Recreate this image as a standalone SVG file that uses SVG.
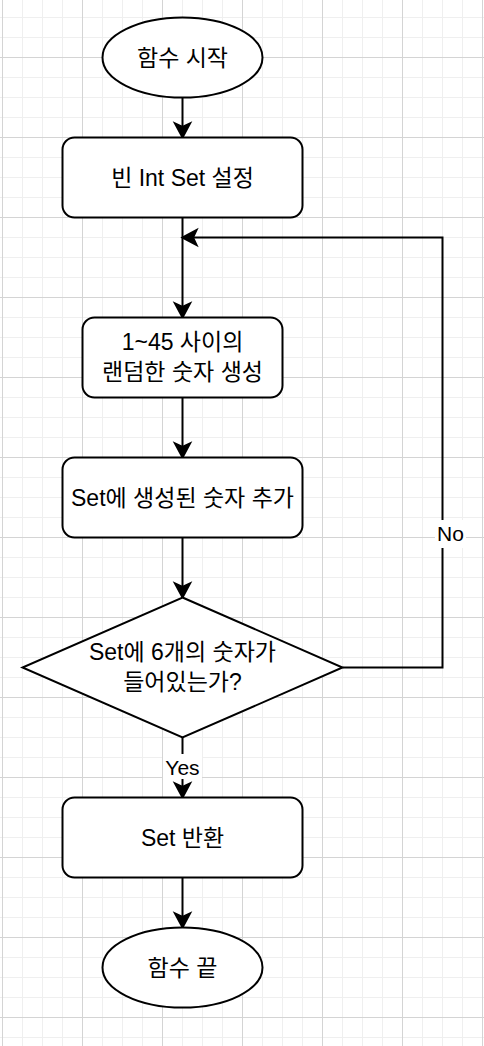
<svg xmlns="http://www.w3.org/2000/svg" width="484" height="1046" viewBox="0 0 484 1046">
  <defs>
    <pattern id="grid" patternUnits="userSpaceOnUse" x="2" y="-23" width="80" height="80">
      <rect x="20" y="0" width="1" height="80" fill="#efefef"/>
      <rect x="40" y="0" width="1" height="80" fill="#efefef"/>
      <rect x="60" y="0" width="1" height="80" fill="#efefef"/>
      <rect x="0" y="20" width="80" height="1" fill="#efefef"/>
      <rect x="0" y="40" width="80" height="1" fill="#efefef"/>
      <rect x="0" y="60" width="80" height="1" fill="#efefef"/>
      <rect x="0" y="0" width="1" height="80" fill="#d4d4d4"/>
      <rect x="0" y="0" width="80" height="1" fill="#d4d4d4"/>
    </pattern>
    <marker id="arrow" markerUnits="userSpaceOnUse" markerWidth="40" markerHeight="40" refX="0" refY="0" orient="auto" overflow="visible" viewBox="-20 -20 40 40">
      <path d="M10,0 L-4,-7.5 L-0.5,0 L-4,7.5 Z" fill="#000" stroke="#000" stroke-width="2" stroke-linejoin="miter"/>
    </marker>
  </defs>
  <style>
    .shape { fill: #fff; stroke: #000; stroke-width: 2; }
    .txt { font-family: "Liberation Sans", "Noto Sans CJK KR", sans-serif; font-size: 23px; fill: #000; text-anchor: middle; }
    .lbl { font-family: "Liberation Sans", "Noto Sans CJK KR", sans-serif; font-size: 21px; fill: #000; text-anchor: middle; }
    .edge { fill: none; stroke: #000; stroke-width: 2; }
    .arr { marker-end: url(#arrow); }
  </style>
  <rect x="0" y="0" width="484" height="1046" fill="#fff"/>
  <rect x="0" y="0" width="484" height="1046" fill="url(#grid)"/>

  <g id="connectors">
    <path class="edge arr" d="M182.5,97.5 V127.5"/>
    <path class="edge arr" d="M182.5,217.5 V307.5"/>
    <path class="edge arr" d="M182.5,397.5 V447.5"/>
    <path class="edge arr" d="M182.5,537.5 V587.5"/>
    <path class="edge arr" d="M182.5,737.5 V787.5"/>
    <path class="edge arr" d="M182.5,877.5 V917.5"/>
    <path class="edge arr" d="M342.5,667.5 H442.5 V237.5 H192.5"/>
    <g id="label-yes">
      <rect x="163" y="754" width="39" height="25" fill="#fff"/>
      <text class="lbl" x="182.5" y="774.5">Yes</text>
    </g>
    <g id="label-no">
      <rect x="435" y="520" width="31" height="28" fill="#fff"/>
      <text class="lbl" x="450.5" y="541">No</text>
    </g>
  </g>

  <g id="start">
    <ellipse class="shape" cx="182.5" cy="57.5" rx="80" ry="40"/>
    <text class="txt" x="182.5" y="65.5">함수 시작</text>
  </g>
  <g id="init-set">
    <rect class="shape" x="62.5" y="137.5" width="240" height="80" rx="12" ry="12"/>
    <text class="txt" x="182.5" y="185.5">빈 Int Set 설정</text>
  </g>
  <g id="random">
    <rect class="shape" x="82.5" y="317.5" width="200" height="80" rx="12" ry="12"/>
    <text class="txt" x="182.5" y="350">1~45 사이의</text>
    <text class="txt" x="182.5" y="380">랜덤한 숫자 생성</text>
  </g>
  <g id="add">
    <rect class="shape" x="62.5" y="457.5" width="240" height="80" rx="12" ry="12"/>
    <text class="txt" x="182.5" y="505.5">Set에 생성된 숫자 추가</text>
  </g>
  <g id="check">
    <polygon class="shape" points="182.5,597.5 342.5,667.5 182.5,737.5 22.5,667.5"/>
    <text class="txt" x="182.5" y="660">Set에 6개의 숫자가</text>
    <text class="txt" x="182.5" y="690">들어있는가?</text>
  </g>
  <g id="return">
    <rect class="shape" x="62.5" y="797.5" width="240" height="80" rx="12" ry="12"/>
    <text class="txt" x="182.5" y="845.5">Set 반환</text>
  </g>
  <g id="end">
    <ellipse class="shape" cx="182.5" cy="967.5" rx="80" ry="40"/>
    <text class="txt" x="182.5" y="975.5">함수 끝</text>
  </g>
</svg>
